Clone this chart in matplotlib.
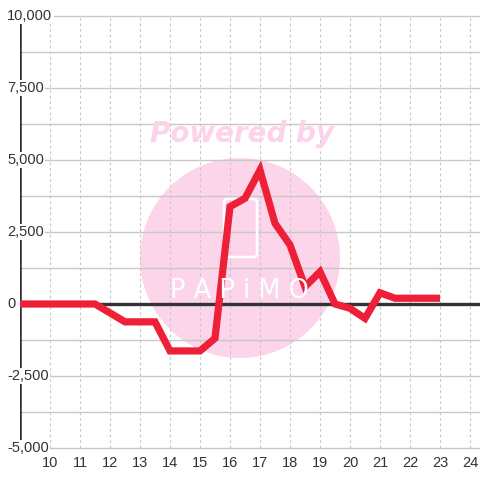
import matplotlib
matplotlib.use("Agg")
import matplotlib.pyplot as plt
from matplotlib.patches import Ellipse, FancyBboxPatch

# Data
hours = [9.0, 9.5, 10.0, 10.5, 11.0, 11.5, 12.0, 12.5, 13.0, 13.5, 14.0, 14.5,
         15.0, 15.5, 16.0, 16.5, 17.0, 17.5, 18.0, 18.5, 19.0, 19.5, 20.0, 20.5,
         21.0, 21.5, 22.0, 22.5, 23.0]
values = [0, 0, 0, 0, 0, 0, -310, -620, -620, -620, -1630, -1630,
          -1630, -1190, 3380, 3670, 4650, 2800, 2050, 600, 1120, 0, -150, -500,
          390, 200, 200, 200, 200]
x_ticks = list(range(10, 25))
y_ticks = [-5000, -2500, 0, 2500, 5000, 7500, 10000]
y_tick_labels = ["-5,000", "-2,500", "0", "2,500", "5,000", "7,500", "10,000"]
y_grid = [-5000, -3750, -2500, -1250, 0, 1250, 2500, 3750, 5000, 6250, 7500, 8750, 10000]

W = H = 480
fig = plt.figure(figsize=(4.8, 4.8), dpi=100)
fig.patch.set_facecolor("white")
ax = fig.add_axes([20 / W, 32 / H, 460 / W, 432 / H])
ax.set_facecolor("none")
ax.set_xlim(9, 9 + 460 / 30)
ax.set_ylim(-5000, 10000)
for s in ax.spines.values():
    s.set_visible(False)
ax.set_xticks([])
ax.set_yticks([])

grid_c = "#c8c8c8"
# watermark circle (behind grid)
circ = Ellipse((240 / W, 1 - 258 / H), 200 / W, 200 / H, transform=fig.transFigure,
               facecolor="#fcd5eb", edgecolor="none", zorder=0.2)
ax.add_patch(circ)

for yv in y_grid:
    ax.axhline(yv, color=grid_c, lw=1.0, zorder=1, clip_on=False)
for xv in x_ticks:
    ax.axvline(xv, color=grid_c, lw=0.8, ls=(0, (2.5, 2.5)), zorder=1)

# watermark texts
fig.text(242 / W, 1 - 134 / H, "Powered by", ha="center", va="center",
         fontsize=20, fontweight="heavy", fontstyle="italic", color="#fcd3ea",
         family="DejaVu Sans", zorder=2)
phone = FancyBboxPatch((224 / W, 1 - 257 / H), 33 / W, 58 / H, transform=fig.transFigure,
                       boxstyle="round,pad=0,rounding_size=0.008", facecolor="none",
                       edgecolor="white", lw=1.8, zorder=1.5)
ax.add_patch(phone)
fig.text(239 / W, 1 - 291 / H, "P A P i M O", ha="center", va="center",
         fontsize=18.5, fontweight="normal", color="white", family="DejaVu Sans",
         zorder=2)

# axes lines
ax.axvline(9, color="#333333", lw=2.6, zorder=3)
ax.axhline(0, color="#333333", lw=2.4, zorder=3)

# series line
ax.plot(hours, values, color="#ee2038", lw=5.2, solid_joinstyle="miter",
        solid_capstyle="butt", zorder=4, clip_on=False)

# tick labels
for yv, lab in zip(y_ticks, y_tick_labels):
    ax.text(-13 / 30 + 9, yv, lab, ha="left", va="center", fontsize=10.5,
            color="#333333", family="Liberation Sans", zorder=5,
            bbox=dict(facecolor="white", edgecolor="none", pad=1.0))
for xv in x_ticks:
    ax.text(xv, -5000 - 8 * 15000 / 432, str(xv), ha="center", va="top",
            fontsize=10.5, color="#333333", family="Liberation Sans", zorder=5)

fig.savefig("out.png", dpi=100, facecolor="white")
